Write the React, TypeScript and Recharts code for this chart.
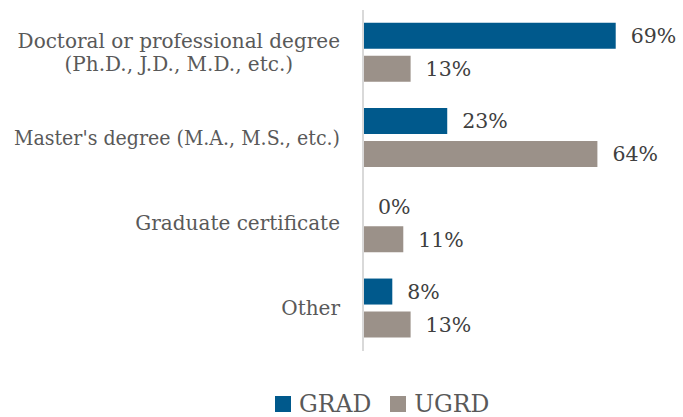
import React from "react";
import {
  BarChart,
  Bar,
  XAxis,
  YAxis,
  Legend,
  LabelList,
} from "recharts";

const categories = [
  "Doctoral or professional degree (Ph.D., J.D., M.D., etc.)",
  "Master's degree (M.A., M.S., etc.)",
  "Graduate certificate",
  "Other",
];
const gradValues = [69, 23, 0, 8];
const ugrdValues = [13, 64, 11, 13];
const seriesNames = ["GRAD", "UGRD"];
const colors = ["#00598c", "#9b9189"];

const data = categories.map((name, i) => ({
  name,
  GRAD: gradValues[i],
  UGRD: ugrdValues[i],
}));

const FONT = "'DejaVu Serif', serif";
const LABEL_SIZE = 20;
const MAX_LABEL_W = 326;

const measure = (text: string, size: number) => {
  const c = document.createElement("canvas").getContext("2d");
  if (!c) return text.length * size * 0.55;
  c.font = `${size}px 'DejaVu Serif'`;
  return c.measureText(text).width;
};

const Line = ({ x, y, anchor, text }: any) => {
  const w = measure(text, LABEL_SIZE);
  const fit = w > MAX_LABEL_W;
  return (
    <text
      x={x}
      y={y}
      dy="0.35em"
      textAnchor={anchor}
      fill="#595959"
      fontSize={LABEL_SIZE}
      fontFamily={FONT}
      textLength={fit ? MAX_LABEL_W : undefined}
      lengthAdjust={fit ? "spacingAndGlyphs" : undefined}
    >
      {text}
    </text>
  );
};

const CategoryTick = (props: any) => {
  const { x, y, payload } = props;
  const value: string = payload.value;
  const xEnd = x - 15;
  if (value.length > 35) {
    const idx = value.indexOf(" (");
    const lines = [value.slice(0, idx), value.slice(idx + 1)];
    const w = Math.min(measure(lines[0], LABEL_SIZE), MAX_LABEL_W);
    return (
      <g>
        <Line x={xEnd} y={y - 12} anchor="end" text={lines[0]} />
        <Line x={xEnd - w / 2} y={y + 11} anchor="middle" text={lines[1]} />
      </g>
    );
  }
  return <Line x={xEnd} y={y} anchor="end" text={value} />;
};

const LegendContent = () => (
  <div
    style={{
      display: "flex",
      alignItems: "center",
      fontFamily: FONT,
      height: 36,
    }}
  >
    {seriesNames.map((s, i) => (
      <div
        key={s}
        style={{ display: "flex", alignItems: "center", marginRight: 19 }}
      >
        <span
          style={{
            width: 16,
            height: 16,
            background: colors[i],
            display: "inline-block",
            marginRight: 8,
          }}
        />
        <span style={{ fontSize: 23.5, lineHeight: "36px", color: "#595959" }}>
          {s}
        </span>
      </div>
    ))}
  </div>
);

export default function App() {
  return (
    <div style={{ position: "absolute", left: 0, top: 0 }}>
      <BarChart
        width={683}
        height={417}
        data={data}
        layout="vertical"
        margin={{ top: 10, right: 27, bottom: 30, left: 0 }}
        barCategoryGap="15%"
        barGap={7}
      >
        <XAxis type="number" domain={[0, 80]} hide />
        <YAxis
          type="category"
          dataKey="name"
          width={363}
          axisLine={{ stroke: "#d9d9d9", strokeWidth: 2 }}
          tickLine={false}
          tick={<CategoryTick />}
          interval={0}
        />
        <Legend
          content={<LegendContent />}
          wrapperStyle={{ top: 386, left: 275, width: 300, height: 36 }}
        />
        {seriesNames.map((s, i) => (
          <Bar
            key={s}
            dataKey={s}
            fill={colors[i]}
            minPointSize={0.01}
            isAnimationActive={false}
          >
            <LabelList
              dataKey={s}
              position="right"
              offset={15}
              formatter={(v: any) => `${v}%`}
              fill="#404040"
              fontSize={20.5}
              fontFamily={FONT}
            />
          </Bar>
        ))}
      </BarChart>
    </div>
  );
}
